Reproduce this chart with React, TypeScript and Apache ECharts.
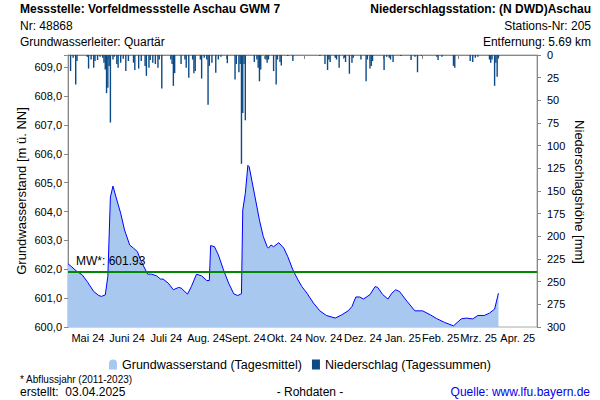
import React, { useEffect, useRef } from 'react';
import * as echarts from 'echarts';

// x values: days since 1 May 2024
const monthLabels = ['Mai 24', 'Juni 24', 'Juli 24', 'Aug. 24', 'Sept. 24', 'Okt. 24', 'Nov. 24', 'Dez. 24', 'Jan. 25', 'Feb. 25', 'Mrz. 25', 'Apr. 25'];
const monthStartDays = [0, 31, 61, 92, 123, 153, 184, 214, 245, 276, 304, 335, 365];

const gwDay = [0, 3, 7, 11, 15, 20, 24, 26, 29, 31, 33, 35, 38, 41, 44, 48, 51, 54, 57, 62, 65, 69, 72, 74, 78, 82, 86, 88, 93, 96, 100, 104, 108, 110, 111, 114, 117, 121, 125, 129, 132, 135, 136, 138, 140, 141, 143, 146, 149, 152, 155, 156, 158, 160, 164, 168, 171, 175, 179, 182, 186, 191, 196, 201, 208, 213, 218, 221, 224, 227, 230, 235, 239, 241, 245, 249, 252, 255, 258, 264, 270, 276, 282, 287, 293, 300, 306, 310, 315, 319, 324, 328, 332, 335];
const gwLevel = [602.19, 602.08, 601.92, 601.81, 601.57, 601.23, 601.09, 601.06, 601.11, 601.75, 604.5, 604.88, 604.4, 603.94, 603.36, 602.84, 602.73, 602.61, 602.27, 601.83, 601.83, 601.77, 601.66, 601.66, 601.52, 601.29, 601.37, 601.35, 601.14, 601.4, 601.83, 601.77, 601.61, 601.61, 602.82, 602.78, 602.5, 601.98, 601.52, 601.15, 601.09, 601.15, 604.05, 604.63, 605.6, 605.55, 605.09, 604.4, 603.7, 603.13, 602.78, 602.73, 602.84, 602.78, 602.92, 602.73, 602.44, 601.98, 601.63, 601.4, 601.17, 600.83, 600.56, 600.4, 600.31, 600.42, 600.56, 600.71, 601.04, 601.04, 600.97, 601.12, 601.4, 601.37, 601.12, 600.97, 601.17, 601.29, 601.23, 600.88, 600.56, 600.56, 600.42, 600.29, 600.16, 600.04, 600.28, 600.31, 600.28, 600.4, 600.4, 600.48, 600.62, 601.17];

const precipDay = [2, 4, 6, 7, 15, 16, 18, 20, 21, 23, 25, 27, 28, 29, 30, 31, 32, 33, 35, 36, 38, 39, 41, 43, 45, 47, 51, 52, 55, 57, 60, 61, 63, 64, 66, 68, 70, 71, 73, 80, 81, 82, 83, 88, 91, 92, 94, 97, 98, 99, 103, 104, 106, 108, 109, 110, 112, 115, 117, 119, 124, 130, 131, 133, 134, 135, 136, 137, 138, 145, 147, 148, 149, 150, 154, 155, 156, 160, 162, 163, 165, 166, 171, 175, 196, 200, 202, 203, 204, 208, 209, 211, 215, 216, 219, 221, 222, 228, 232, 233, 235, 236, 237, 246, 248, 250, 251, 253, 259, 267, 270, 272, 275, 287, 288, 291, 300, 301, 313, 315, 317, 319, 328, 329, 330, 332, 333, 334, 335];
const precipMm = [17.7, 3, 32.5, 6.7, 2, 15, 5, 14, 6.7, 5.5, 2, 3, 8.5, 16, 42, 36, 12, 74.5, 5, 2, 10, 14, 8.5, 4, 17.7, 6.7, 8.5, 16.5, 15, 6.7, 12, 23, 14, 5.5, 8.5, 10, 14, 5, 37, 5, 10, 34, 20, 10, 5, 14, 25, 5, 20, 17.7, 5, 26, 3, 5, 55, 12, 8.5, 19.5, 5, 2, 9, 27, 10, 19, 10, 120, 64, 10, 72, 7.7, 5, 14, 29, 16, 5, 8.5, 5, 17.7, 32.5, 5, 7.7, 11.5, 1, 6.7, 1, 10, 16.5, 5, 7.7, 3, 5, 14, 3, 7.7, 20.7, 8.5, 3, 5, 29, 5, 15, 12, 6.7, 16.5, 2, 3, 5, 7.7, 1, 5.5, 2, 19, 1, 2, 5.5, 2, 12, 14, 6.7, 7.7, 3, 2, 5, 8.5, 5, 34, 8.5, 24, 3];

const meanLevel = 601.93;
const levelMin = 600;
const levelMax = 609.42;
const precipMax = 300;

const FONT = '"Liberation Sans", Arial, sans-serif';

export default function App() {
  const ref = useRef<HTMLDivElement>(null);
  useEffect(() => {
    if (!ref.current) return;
    const chart = echarts.init(ref.current, undefined, { renderer: 'svg' });
    const mids = monthLabels.map((_, i) => (monthStartDays[i] + monthStartDays[i + 1]) / 2);
    const txt = (text: string, x: number, y: number, opts: any = {}) => ({
      type: 'text',
      x,
      y,
      rotation: opts.rotation || 0,
      style: {
        text,
        x: 0,
        y: 0,
        fill: opts.fill || '#000',
        fontSize: opts.fontSize || 12,
        fontWeight: opts.fontWeight || 'normal',
        fontFamily: FONT,
        align: opts.align || 'left',
        verticalAlign: 'middle',
      },
    });
    chart.setOption({
      animation: false,
      backgroundColor: '#fff',
      textStyle: { fontFamily: FONT },
      grid: { left: 68, right: 63, top: 55, bottom: 73, show: true, borderColor: '#aaa', borderWidth: 1, backgroundColor: 'transparent' },
      legend: {
        top: 353,
        left: 'center',
        itemWidth: 8,
        itemHeight: 10,
        itemGap: 10,
        textStyle: { fontSize: 12.5, color: '#000', fontFamily: FONT },
        data: [
          { name: 'Grundwasserstand (Tagesmittel)', icon: 'path://M0,10 L0,4 Q0,0 4,0 Q8,0 8,4 L8,10 Z', itemStyle: { color: '#a8c8f0', borderWidth: 0 } },
          { name: 'Niederschlag (Tagessummen)', icon: 'rect', itemStyle: { color: '#0b4a86', borderWidth: 0 } },
        ],
      },
      xAxis: {
        type: 'value',
        min: 0,
        max: 365,
        axisLine: { show: true, lineStyle: { color: '#888' } },
        axisTick: { show: true, customValues: monthStartDays, length: 4, lineStyle: { color: '#888' } },
        axisLabel: {
          customValues: mids,
          formatter: (v: number) => {
            const i = mids.findIndex((m) => Math.abs(m - v) < 0.01);
            return i >= 0 ? monthLabels[i] : '';
          },
          fontSize: 11,
          color: '#000',
          margin: 5,
          fontFamily: FONT,
        },
        splitLine: { show: false },
      },
      yAxis: [
        {
          type: 'value',
          min: levelMin,
          max: levelMax,
          interval: 1,
          position: 'left',
          axisLine: { show: true, lineStyle: { color: '#888' } },
          axisTick: { show: true, length: 4, lineStyle: { color: '#888' } },
          axisLabel: {
            formatter: (v: number) => (Math.abs(v - Math.round(v)) < 1e-6 ? v.toFixed(1).replace('.', ',') : ''),
            fontSize: 11,
            color: '#000',
            margin: 6,
            fontFamily: FONT,
          },
          splitLine: { show: false },
        },
        {
          type: 'value',
          min: 0,
          max: precipMax,
          interval: 25,
          inverse: true,
          position: 'right',
          axisLine: { show: true, lineStyle: { color: '#888' } },
          axisTick: { show: true, length: 4, lineStyle: { color: '#888' } },
          axisLabel: { fontSize: 11, color: '#000', margin: 10, fontFamily: FONT },
          splitLine: { show: false },
        },
      ],
      series: [
        {
          type: 'line',
          name: 'Grundwasserstand (Tagesmittel)',
          data: gwDay.map((d, i) => [d, gwLevel[i]]),
          symbol: 'none',
          showSymbol: false,
          lineStyle: { color: '#0000ff', width: 1 },
          itemStyle: { color: '#a8c8f0' },
          areaStyle: { color: '#a8c8f0', opacity: 1, origin: 'start' },
          z: 2,
          markLine: {
            silent: true,
            symbol: 'none',
            data: [{ yAxis: meanLevel }],
            lineStyle: { color: '#008800', width: 2, type: 'solid' },
            label: {
              position: 'insideStartTop',
              formatter: 'MW*: ' + meanLevel.toFixed(2),
              color: '#000',
              fontSize: 12,
              fontFamily: FONT,
              distance: [8, 4],
            },
          },
        },
        {
          type: 'bar',
          name: 'Niederschlag (Tagessummen)',
          yAxisIndex: 1,
          data: precipDay.map((d, i) => [d, precipMm[i]]),
          barWidth: 1.4,
          itemStyle: { color: '#0b4a86' },
          z: 3,
        },
      ],
      graphic: [
        txt('Messstelle: Vorfeldmessstelle Aschau GWM 7', 20, 9, { fontWeight: 'bold' }),
        txt('Nr: 48868', 20, 26),
        txt('Grundwasserleiter: Quartär', 20, 42),
        txt('Niederschlagsstation: (N DWD)Aschau', 591, 9, { align: 'right', fontWeight: 'bold' }),
        txt('Stations-Nr: 205', 591, 26, { align: 'right' }),
        txt('Entfernung: 5.69 km', 591, 42, { align: 'right' }),
        txt('Grundwasserstand [m ü. NN]', 21, 191, { align: 'center', rotation: Math.PI / 2, fontSize: 13 }),
        txt('Niederschlagshöhe [mm]', 579, 192, { align: 'center', rotation: -Math.PI / 2, fontSize: 13 }),
        txt('* Abflussjahr (2011-2023)', 20, 379, { fontSize: 10 }),
        txt('erstellt:  03.04.2025', 20, 392),
        txt('- Rohdaten -', 310, 392, { align: 'center' }),
        txt('Quelle: www.lfu.bayern.de', 590, 392, { align: 'right', fill: '#0000ee' }),
      ],
    });
    return () => chart.dispose();
  }, []);
  return <div ref={ref} style={{ position: 'fixed', left: 0, top: 0, width: 600, height: 400, background: '#fff' }} />;
}
